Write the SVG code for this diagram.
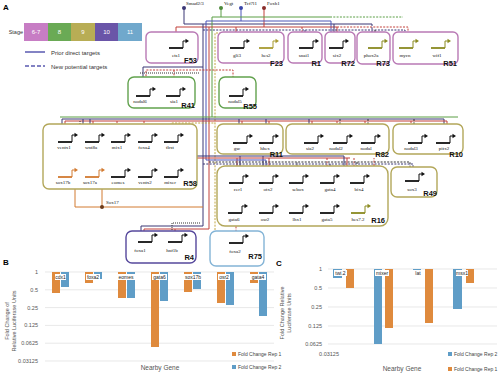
<svg xmlns="http://www.w3.org/2000/svg" width="500" height="374" viewBox="0 0 500 374">
<style>
.bx{fill:#fff;stroke-width:1.4}
.pk{stroke:#b979b5}.gn{stroke:#62a24e}.ol{stroke:#b3a75a}.pu{stroke:#56489c}.lb{stroke:#84b4d6}
.gt{font-family:"Liberation Serif",serif;font-size:5px;text-anchor:middle;fill:#111}
.lab{font-family:"Liberation Sans",Arial,sans-serif;font-size:7.5px;font-weight:bold;text-anchor:end;fill:#111}
.sm{font-family:"Liberation Sans",Arial,sans-serif;font-size:6px;fill:#333}
.lg{font-family:"Liberation Sans",Arial,sans-serif;font-size:5px;fill:#444}
.ax{font-family:"Liberation Sans",Arial,sans-serif;font-size:5.5px;fill:#555;text-anchor:end}
.bl{font-family:"Liberation Sans",Arial,sans-serif;font-size:5px;fill:#222;text-anchor:middle}
.w path,.w line{fill:none;stroke-width:1}
.s{stroke:#3b3775}.t{stroke:#4a55b8}.f{stroke:#c2403b}.v{stroke:#5a9e45}.x{stroke:#d27a30}.k{stroke:#333}.o{stroke:#c2a845}.gy{stroke:#888}
.d{stroke-dasharray:2 1.3}.dt{stroke-dasharray:1 1}
.ob{fill:#df8a3d}.bb{fill:#5f9dc7}
.grid{stroke:#d9d9d9;stroke-width:0.6}
</style>
<defs>
<g id="pr"><path d="M-14,0H0" stroke="currentColor" stroke-width="1.8"/><path d="M0,0V-7H3" fill="none" stroke="currentColor" stroke-width="1"/><path d="M2.5,-9.2L6,-7L2.5,-4.8Z" fill="currentColor"/></g>
</defs>
<rect width="500" height="374" fill="#fff"/>

<!-- Panel A header and legend -->
<text x="3" y="10" font-family="Liberation Sans,Arial,sans-serif" font-size="8" font-weight="bold">A</text>
<text x="23" y="34" style="font-family:'Liberation Sans',Arial,sans-serif;font-size:5.5px;fill:#333" text-anchor="end">Stage</text>
<g font-family="Liberation Sans,Arial,sans-serif" font-size="6" fill="#fff" text-anchor="middle">
<rect x="24" y="23" width="24" height="18" fill="#c77dc4"/><text x="36" y="34">6-7</text>
<rect x="48" y="23" width="23" height="18" fill="#6aaa55"/><text x="59.5" y="34">8</text>
<rect x="71" y="23" width="24" height="18" fill="#b8ad55"/><text x="83" y="34">9</text>
<rect x="95" y="23" width="23" height="18" fill="#6a55a8"/><text x="106.5" y="34">10</text>
<rect x="118" y="23" width="24" height="18" fill="#70a8cc"/><text x="130" y="34">11</text>
</g>
<line x1="25" y1="52" x2="45" y2="52" stroke="#5a5ab0" stroke-width="1.5"/>
<text x="51" y="55" class="sm">Prior direct targets</text>
<line x1="25" y1="66" x2="45" y2="66" stroke="#5a5ab0" stroke-width="1.5" stroke-dasharray="4 2"/>
<text x="51" y="69" class="sm">New potential targets</text>

<!-- Connectors -->
<g id="connectors" class="w">
<path class="s" d="M184,8V24H372"/>
<path class="v" d="M221,8V17"/>
<path class="t" d="M241,8V21"/>
<path class="f" d="M264,8V27"/>
<path class="v" d="M212,117V17H330"/>
<path class="v d" d="M330,17H403"/>
<path class="t" d="M206,160V21H331V48"/>
<path class="f" d="M176,48V27H337V48"/>
<path class="f d" d="M337,27H408V48"/>
<path class="s d" d="M203,30H405V48"/>
<path class="s d" d="M305,30V48"/>
<path class="f d" d="M302,27V48"/>
<path class="s d" d="M372,24V48"/>
<path class="k d" d="M375,30V48"/>
<path class="f" d="M236,27V48"/>
<path class="s" d="M334,24V48"/>
<path class="o d" d="M215,230V33H267V48"/>
<path class="s" d="M203,24V226"/>
<path class="f" d="M209,27V229"/>
<path class="s" d="M203,67H143V96"/>
<path class="f d" d="M146,96V70H233V96"/>
<path class="f d" d="M174,70V96"/>
<path class="k dt" d="M140,73H200"/>
<path class="v" d="M60,117H458"/>
<path class="s" d="M62,142V119H444V143"/>
<path class="f" d="M65,142V121H447V143"/>
<path class="o d" d="M171,142V123H215"/>
<path class="s" d="M90,119V142M239,119V143M266,119V143M309,119V143"/>
<path class="f" d="M93,121V142M242,121V143M269,121V143M312,121V143"/>
<path class="f d" d="M117,121V142M144,121V142M337,121V143M365,121V143M411,121V143"/>
<path class="k d" d="M340,119V143M368,119V143M414,119V143"/>
<path class="s" d="M83,119V156H203"/>
<path class="s" d="M92,156V177"/>
<path class="s d" d="M148,156V177"/>
<path class="f" d="M95,177V158H209"/>
<path class="f d" d="M119,158V177"/>
<path class="k dt" d="M80,121V160H172V177M64,160V177M143,160V177"/>
<path class="s" d="M203,156H240V183M263,156V183"/>
<path class="f" d="M209,158H350M237,158V183M269,158V183"/>
<path class="t" d="M206,160H266V183"/>
<path class="gy" d="M297,162V183"/>
<path class="f d" d="M327,158V183M354,158V183"/>
<path class="s d" d="M330,164V183"/>
<path class="k d" d="M209,162H410V181M357,162V183"/>
<path class="s d" d="M203,164H413V181"/>
<path class="s" d="M240,156H344V192H265V213M295,192V213"/>
<path class="f" d="M347,158V196H298V213M327,196V213"/>
<path class="f d" d="M233,213V200H374V158"/>
<path class="f d" d="M236,200V243"/>
<path class="o d" d="M361,200V213"/>
<path class="s" d="M203,226H141V242"/>
<path class="f" d="M209,229H144V242"/>
<path class="k dt" d="M200,223H172V242"/>
<path class="f d" d="M175,229V242"/>
<path class="x" d="M75,170V207H203"/>
<path class="x" d="M102,207V179"/>
</g>
<circle cx="184" cy="8" r="2" fill="#3b3775"/>
<circle cx="221" cy="8" r="2" fill="#4f8a3a"/>
<circle cx="241" cy="8" r="2" fill="#3a45a8"/>
<circle cx="264" cy="8" r="2" fill="#8a2e2a"/>
<circle cx="102" cy="207" r="2" fill="#6b3a1a"/>
<g font-family="Liberation Serif,serif" font-size="5" fill="#111">
<text x="186" y="5">Smad2/3</text>
<text x="224" y="5">Vegt</text>
<text x="244" y="5">Tcf7l1</text>
<text x="267" y="5">Foxh1</text>
<text x="106" y="204">Sox17</text>
</g>

<!-- Row 1 nodes -->
<g id="F53"><rect class="bx pk" x="146" y="32" width="52" height="31" rx="5"/><use href="#pr" x="183" y="48" color="#111"/><text class="gt" x="176" y="57">ets1</text><text class="lab" x="197" y="63">F53</text></g>
<g id="F23"><rect class="bx pk" x="218" y="32" width="66" height="31" rx="5"/><use href="#pr" x="244" y="48" color="#111"/><use href="#pr" x="273" y="48" color="#a89a30"/><text class="gt" x="237" y="57">gli3</text><text class="gt" x="266" y="57">hes2</text><text class="lab" x="283" y="65.5">F23</text></g>
<g id="R1"><rect class="bx pk" x="288" y="32" width="34" height="31" rx="5"/><use href="#pr" x="313" y="48" color="#111"/><text class="gt" x="304" y="57">snai1</text><text class="lab" x="321" y="65.5">R1</text></g>
<g id="R72"><rect class="bx pk" x="325" y="32" width="30" height="31" rx="5"/><use href="#pr" x="343" y="48" color="#111"/><text class="gt" x="337" y="57">six2</text><text class="lab" x="355" y="65.5">R72</text></g>
<g id="R73"><rect class="bx pk" x="357" y="32" width="33" height="32" rx="5"/><use href="#pr" x="382" y="48" color="#8a8a20"/><text class="gt" x="371" y="57">phox2a</text><text class="lab" x="390" y="66">R73</text></g>
<g id="R51"><rect class="bx pk" x="393" y="32" width="65" height="32" rx="5"/><use href="#pr" x="413" y="48" color="#8a8a20"/><use href="#pr" x="445" y="48" color="#8a8a20"/><text class="gt" x="405" y="57">mycn</text><text class="gt" x="437" y="57">wif1</text><text class="lab" x="457" y="66">R51</text></g>

<!-- Row 2 -->
<g id="R41"><rect class="bx gn" x="128" y="77" width="67" height="31" rx="6"/><use href="#pr" x="150" y="96" color="#111"/><use href="#pr" x="180" y="96" color="#111"/><text class="gt" x="140" y="103">nodal6</text><text class="gt" x="174" y="103">sia1</text><text class="lab" x="195" y="108">R41</text></g>
<g id="R55"><rect class="bx gn" x="219" y="77" width="37" height="31" rx="6"/><use href="#pr" x="243" y="96" color="#111"/><text class="gt" x="235" y="103">nodal5</text><text class="lab" x="257" y="109">R55</text></g>

<!-- Row 3 -->
<g id="R58"><rect class="bx ol" x="43" y="124" width="154" height="65" rx="6"/>
<use href="#pr" x="72" y="142" color="#111"/><use href="#pr" x="99" y="142" color="#111"/><use href="#pr" x="125" y="142" color="#111"/><use href="#pr" x="152" y="142" color="#111"/><use href="#pr" x="178" y="142" color="#111"/>
<use href="#pr" x="72" y="177" color="#d27a30"/><use href="#pr" x="99" y="177" color="#d27a30"/><use href="#pr" x="125" y="177" color="#111"/><use href="#pr" x="152" y="177" color="#111"/><use href="#pr" x="178" y="177" color="#111"/>
<text class="gt" x="64" y="149">ventx1</text><text class="gt" x="91" y="149">wnt8a</text><text class="gt" x="117" y="149">mix1</text><text class="gt" x="144" y="149">foxa4</text><text class="gt" x="170" y="149">tbxt</text>
<text class="gt" x="63" y="184">sox17b</text><text class="gt" x="90" y="184">sox17a</text><text class="gt" x="118" y="184">eomes</text><text class="gt" x="145" y="184">ventx2</text><text class="gt" x="170" y="184">mixer</text>
<text class="lab" x="197" y="186">R58</text></g>
<g id="R11"><rect class="bx ol" x="217" y="124" width="66" height="30" rx="6"/><use href="#pr" x="247" y="143" color="#111"/><use href="#pr" x="273" y="143" color="#111"/><text class="gt" x="237" y="150">gsc</text><text class="gt" x="265" y="150">hhex</text><text class="lab" x="283" y="156.5">R11</text></g>
<g id="R82"><rect class="bx ol" x="286" y="124" width="103" height="30" rx="6"/><use href="#pr" x="318" y="143" color="#111"/><use href="#pr" x="347" y="143" color="#111"/><use href="#pr" x="375" y="143" color="#111"/><text class="gt" x="310" y="150">sia2</text><text class="gt" x="336" y="150">nodal2</text><text class="gt" x="366" y="150">nodal</text><text class="lab" x="389" y="156.5">R82</text></g>
<g id="R10"><rect class="bx ol" x="393" y="124" width="70" height="30" rx="6"/><use href="#pr" x="422" y="143" color="#111"/><use href="#pr" x="450" y="143" color="#111"/><text class="gt" x="411" y="150">nodal3</text><text class="gt" x="444" y="150">pitx2</text><text class="lab" x="463" y="156.5">R10</text></g>

<!-- Row 4 -->
<g id="R16"><rect class="bx ol" x="217" y="166" width="171" height="60" rx="8"/>
<use href="#pr" x="243" y="183" color="#111"/><use href="#pr" x="273" y="183" color="#111"/><use href="#pr" x="303" y="183" color="#111"/><use href="#pr" x="334" y="183" color="#111"/><use href="#pr" x="364" y="183" color="#111"/>
<use href="#pr" x="242" y="213" color="#111"/><use href="#pr" x="273" y="213" color="#111"/><use href="#pr" x="303" y="213" color="#111"/><use href="#pr" x="334" y="213" color="#111"/><use href="#pr" x="365" y="213" color="#8a8a20"/>
<text class="gt" x="238" y="191">cer1</text><text class="gt" x="268" y="191">otx2</text><text class="gt" x="298" y="191">sebox</text><text class="gt" x="330" y="191">gata4</text><text class="gt" x="359" y="191">bix4</text>
<text class="gt" x="234" y="221">gata6</text><text class="gt" x="265" y="221">osr2</text><text class="gt" x="297" y="221">lhx1</text><text class="gt" x="327" y="221">gata5</text><text class="gt" x="358" y="221">hes7.2</text>
<text class="lab" x="385" y="223">R16</text></g>
<g id="R49"><rect class="bx ol" x="391" y="167" width="46" height="30" rx="6"/><use href="#pr" x="419" y="181" color="#111"/><text class="gt" x="412" y="191">sox3</text><text class="lab" x="437" y="196">R49</text></g>
<g id="R4"><rect class="bx pu" x="126" y="231" width="70" height="32" rx="6"/><use href="#pr" x="152" y="242" color="#111"/><use href="#pr" x="182" y="242" color="#111"/><text class="gt" x="140" y="252">foxa1</text><text class="gt" x="172" y="252">hnf1b</text><text class="lab" x="194" y="260">R4</text></g>
<g id="R75"><rect class="bx lb" x="210" y="231" width="54" height="35" rx="6"/><use href="#pr" x="243" y="243" color="#111"/><text class="gt" x="235" y="253">foxa2</text><text class="lab" x="262" y="259">R75</text></g>

<!-- Panel B -->
<g id="chartB">
<text x="3" y="265" font-family="Liberation Sans,Arial,sans-serif" font-size="8" font-weight="bold">B</text>
<g class="grid"><line x1="45" y1="272" x2="274" y2="272"/><line x1="45" y1="289.8" x2="274" y2="289.8"/><line x1="45" y1="307.6" x2="274" y2="307.6"/><line x1="45" y1="325.4" x2="274" y2="325.4"/><line x1="45" y1="343.2" x2="274" y2="343.2"/><line x1="45" y1="361" x2="274" y2="361"/></g>
<text class="ax" x="38" y="274">1</text><text class="ax" x="38" y="291.5">0.5</text><text class="ax" x="38" y="309.5">0.25</text><text class="ax" x="38" y="327">0.125</text><text class="ax" x="38" y="345">0.0625</text><text class="ax" x="38" y="363">0.03125</text>
<text font-family="Liberation Sans,Arial,sans-serif" font-size="5.5" fill="#555" text-anchor="middle" transform="translate(9,321) rotate(-90)">Fold Change of</text>
<text font-family="Liberation Sans,Arial,sans-serif" font-size="5.5" fill="#555" text-anchor="middle" transform="translate(16,321) rotate(-90)">Relative Luciferase Units</text>
<rect class="ob" x="52" y="272" width="8" height="21"/><rect class="bb" x="61" y="272" width="8" height="15"/>
<rect class="ob" x="85" y="272" width="8" height="11"/><rect class="bb" x="94" y="272" width="8" height="7"/>
<rect class="ob" x="118" y="272" width="8" height="26"/><rect class="bb" x="127" y="272" width="8" height="26"/>
<rect class="ob" x="151" y="272" width="8" height="75"/><rect class="bb" x="160" y="272" width="8" height="29"/>
<rect class="ob" x="184" y="272" width="8" height="20"/><rect class="bb" x="193" y="272" width="8" height="17"/>
<rect class="ob" x="217" y="272" width="8" height="31"/><rect class="bb" x="226" y="272" width="8" height="33"/>
<rect class="ob" x="250" y="272" width="8" height="11"/><rect class="bb" x="259" y="272" width="8" height="44"/>
<g fill="#fff"><rect x="55" y="274" width="11" height="6"/><rect x="86" y="274" width="14" height="6"/><rect x="117" y="274" width="18" height="6"/><rect x="152" y="274" width="15" height="6"/><rect x="183" y="274" width="20" height="6"/><rect x="218" y="274" width="12" height="6"/><rect x="250" y="274" width="16" height="6"/></g>
<text class="bl" x="60.5" y="279">cdx1</text><text class="bl" x="93" y="279">foxa2</text><text class="bl" x="126" y="279">eomes</text><text class="bl" x="159.5" y="279">gata6</text><text class="bl" x="193" y="279">sox17b</text><text class="bl" x="224" y="279">osr2</text><text class="bl" x="258" y="279">gata4</text>
<text font-family="Liberation Sans,Arial,sans-serif" font-size="6.5" fill="#555" text-anchor="middle" x="160" y="370">Nearby Gene</text>
<rect class="ob" x="232" y="352" width="4" height="4"/><text class="lg" x="238" y="356">Fold Change Rep 1</text>
<rect class="bb" x="232" y="365" width="4" height="4"/><text class="lg" x="238" y="369">Fold Change Rep 2</text>
</g>

<!-- Panel C -->
<g id="chartC">
<text x="276" y="266" font-family="Liberation Sans,Arial,sans-serif" font-size="8" font-weight="bold">C</text>
<g class="grid"><line x1="328" y1="269" x2="497" y2="269"/><line x1="328" y1="288" x2="497" y2="288"/><line x1="328" y1="307" x2="497" y2="307"/><line x1="328" y1="326" x2="497" y2="326"/><line x1="328" y1="344" x2="497" y2="344"/></g>
<text class="ax" x="322" y="271">1</text><text class="ax" x="322" y="290">0.5</text><text class="ax" x="322" y="309">0.25</text><text class="ax" x="322" y="328">0.125</text><text class="ax" x="322" y="346">0.0625</text><text class="ax" x="339" y="356">0.03125</text>
<text font-family="Liberation Sans,Arial,sans-serif" font-size="5.5" fill="#555" text-anchor="middle" transform="translate(284,313) rotate(-90)">Fold Change Relative</text>
<text font-family="Liberation Sans,Arial,sans-serif" font-size="5.5" fill="#555" text-anchor="middle" transform="translate(291,313) rotate(-90)">Luciferase Units</text>
<rect class="bb" x="333" y="269" width="9" height="9"/><rect class="ob" x="346" y="269" width="8" height="19"/>
<rect class="bb" x="374" y="269" width="8" height="75"/><rect class="ob" x="385" y="269" width="8" height="59"/>
<rect class="bb" x="413" y="269" width="8" height="7"/><rect class="ob" x="425" y="269" width="8" height="54"/>
<rect class="bb" x="453" y="269" width="9" height="40"/><rect class="ob" x="466" y="269" width="8" height="14"/>
<g fill="#fff"><rect x="334" y="270" width="13" height="6"/><rect x="375" y="270" width="14" height="6"/><rect x="413" y="270" width="10" height="6"/><rect x="456" y="270" width="12" height="6"/></g>
<text class="bl" x="340.5" y="275">twi.2</text><text class="bl" x="382" y="275">mixer</text><text class="bl" x="418" y="275">lat</text><text class="bl" x="462" y="275">msx1</text>
<text font-family="Liberation Sans,Arial,sans-serif" font-size="6.5" fill="#555" text-anchor="middle" x="402" y="371">Nearby Gene</text>
<rect class="bb" x="448" y="352" width="4" height="4"/><text class="lg" x="454" y="356">Fold Change Rep 2</text>
<rect class="ob" x="448" y="367" width="4" height="4"/><text class="lg" x="454" y="371">Fold Change Rep 1</text>
</g>
</svg>
